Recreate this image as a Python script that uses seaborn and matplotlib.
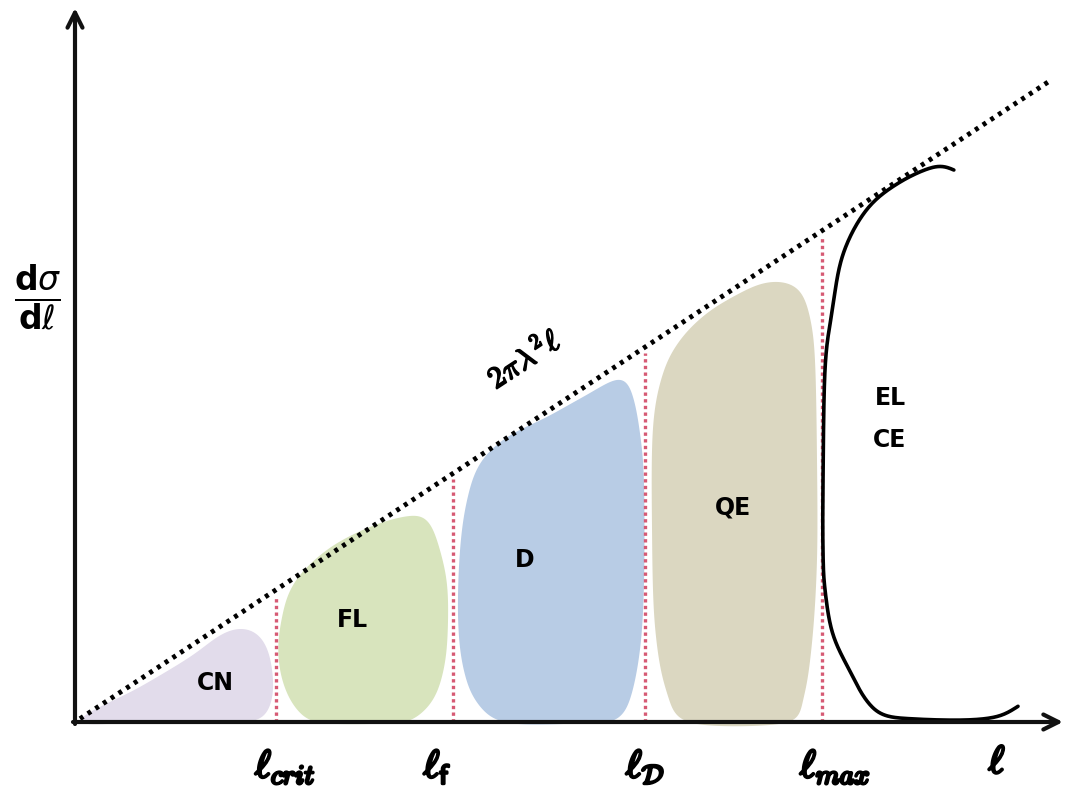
import numpy as np
import matplotlib
matplotlib.use("Agg")
import matplotlib.pyplot as plt
import matplotlib.patheffects as pe
import seaborn as sns

# Regime boundaries along the l axis (axis units) and their labels
bounds = [201, 378, 570, 747]
bound_labels = [r"$\ell_{crit}$", r"$\ell_{\mathsf{f}}$", r"$\ell_{\mathcal{D}}$", r"$\ell_{max}$"]
bound_label_x = [210, 362, 570, 760]

# Upper limit line 2*pi*lambda^2*l
slope = 0.6577
line_end = 975

# Regime regions (outline) and labels
regions = ["CN", "FL", "D", "QE"]
region_colors = ["#e2dceb", "#d8e4bd", "#b8cce5", "#dbd7c1"]
cn_x = [2, 65, 115, 145, 165, 182, 193, 198, 197, 188, 165, 75]
cn_y = [0, 35, 65, 87, 94, 89, 72, 45, 22, 4, 0, 0]
fl_x = [342, 355, 365, 372, 373, 370, 360, 342, 322, 245, 222, 208, 203, 207, 215, 232, 262, 305]
fl_y = [207, 199, 172, 139, 99, 59, 25, 5, -1, -1, 12, 39, 72, 105, 132, 155, 179, 199]
d_x = [545, 557, 565, 569, 569, 565, 555, 542, 515, 432, 402, 388, 383, 385, 392, 405, 432, 472, 508]
d_y = [344, 329, 289, 239, 139, 72, 22, 2, -1, -1, 19, 55, 105, 172, 222, 259, 285, 305, 325]
qe_x = [708, 725, 735, 740, 742, 742, 737, 728, 712, 615, 592, 580, 577, 578, 588, 605, 632, 665, 688]
qe_y = [440, 432, 405, 362, 262, 162, 79, 22, -1, -1, 29, 95, 195, 295, 349, 382, 409, 429, 439]
region_label_x = [140, 277, 450, 658]
region_label_y = [39, 102, 162, 215]

# Elastic / coulomb excitation curve
el_x = [881, 862, 825, 792, 768, 757, 750, 748, 748, 750, 758, 777, 791, 808, 840, 892, 925, 945]
el_y = [551, 556, 540, 513, 468, 410, 353, 239, 170, 132, 87, 47, 22, 7, 3, 2, 6, 17]


def smooth(px, py, closed=True, n=24, sigma=7.0):
    # Catmull-Rom through the outline, then a light gaussian rounding
    pts = np.column_stack([px, py]).astype(float)
    if closed:
        P = np.vstack([pts[-1], pts, pts[0], pts[1]])
    else:
        P = np.vstack([pts[0], pts, pts[-1]])
    t = np.linspace(0, 1, n, endpoint=False)[:, None]
    out = []
    for i in range(1, len(P) - 2):
        p0, p1, p2, p3 = P[i - 1], P[i], P[i + 1], P[i + 2]
        out.append(0.5 * (2 * p1 + (-p0 + p2) * t + (2 * p0 - 5 * p1 + 4 * p2 - p3) * t ** 2
                          + (-p0 + 3 * p1 - 3 * p2 + p3) * t ** 3))
    out.append(P[-2][None])
    s = np.vstack(out)
    d = np.r_[0, np.cumsum(np.hypot(np.diff(s[:, 0]), np.diff(s[:, 1])))]
    m = 600
    u = np.linspace(0, d[-1], m)
    x = np.interp(u, d, s[:, 0])
    y = np.interp(u, d, s[:, 1])
    step = d[-1] / (m - 1)
    sg = sigma / step
    r = int(3 * sg) + 1
    k = np.exp(-0.5 * (np.arange(-r, r + 1) / sg) ** 2)
    k /= k.sum()
    mode = "wrap" if closed else "edge"
    x = np.convolve(np.pad(x, r, mode=mode), k, mode="valid")
    y = np.convolve(np.pad(y, r, mode=mode), k, mode="valid")
    return x, y


sns.set_theme(style="white")
plt.rcParams["font.family"] = ["DejaVu Sans"]
plt.rcParams["text.color"] = "black"

fig = plt.figure(figsize=(10.7, 7.88), dpi=100)
ax = fig.add_axes([0, 0, 1, 1])
ax.set_xlim(-75, 995)
ax.set_ylim(-66, 722)
ax.axis("off")

bold = [pe.withStroke(linewidth=1.2, foreground="black")]

# regions
for xs, ys, col in zip([cn_x, fl_x, d_x, qe_x], [cn_y, fl_y, d_y, qe_y], region_colors):
    sx, sy = smooth(xs, ys, sigma=8)
    ax.fill(sx, sy, color=col, lw=0, zorder=1)
for name, lx, ly in zip(regions, region_label_x, region_label_y):
    ax.text(lx, ly, name, ha="center", va="center", fontsize=17, fontweight="bold", zorder=5)

# boundaries up to the limit line
b = np.array(bounds)
ax.vlines(b, 0, slope * b - 6, colors="#d65a74", linestyles=(0, (1, 1)), lw=2.4, zorder=2)
for lx, lab in zip(bound_label_x, bound_labels):
    ax.text(lx, -45, lab, ha="center", va="center", fontsize=28, math_fontfamily="cm",
            path_effects=[pe.withStroke(linewidth=2, foreground="black")])
ax.text(922, -40, r"$\ell$", ha="center", va="center", fontsize=28, math_fontfamily="cm",
        path_effects=[pe.withStroke(linewidth=2, foreground="black")])

# limit line 2*pi*lambda^2*l
lx = np.array([5, line_end])
sns.lineplot(x=lx, y=slope * lx, color="black", lw=3.5, linestyle=(0, (0.8, 1.1)),
             ax=ax, zorder=4, legend=False)
ax.text(449, 363, r"$2\pi\lambda^2\ell$", rotation=np.degrees(np.arctan(slope)),
        rotation_mode="anchor", ha="center", va="center", fontsize=22,
        math_fontfamily="cm", path_effects=bold, zorder=5)

# elastic / CE curve
ex, ey = smooth(el_x, el_y, closed=False, sigma=6)
sns.lineplot(x=ex, y=ey, sort=False, estimator=None, color="black", lw=2.6, ax=ax, zorder=4)
ax.text(815, 324, "EL", ha="center", va="center", fontsize=17, fontweight="bold")
ax.text(815, 282, "CE", ha="center", va="center", fontsize=17, fontweight="bold")

# axes with arrows
arrow = dict(arrowstyle="->,head_length=0.9,head_width=0.45", lw=3, color="#111111",
             shrinkA=0, shrinkB=0)
ax.annotate("", xy=(0, 714), xytext=(0, -2), arrowprops=arrow, zorder=6)
ax.annotate("", xy=(988, 0), xytext=(-2, 0), arrowprops=arrow, zorder=6)

# y label as a fraction
ax.text(-37, 424, r"$\frac{\mathbf{d}\sigma}{\mathbf{d}\ell}$", ha="center", va="center",
        fontsize=34, math_fontfamily="dejavusans")

fig.savefig("out.png", dpi=100)
